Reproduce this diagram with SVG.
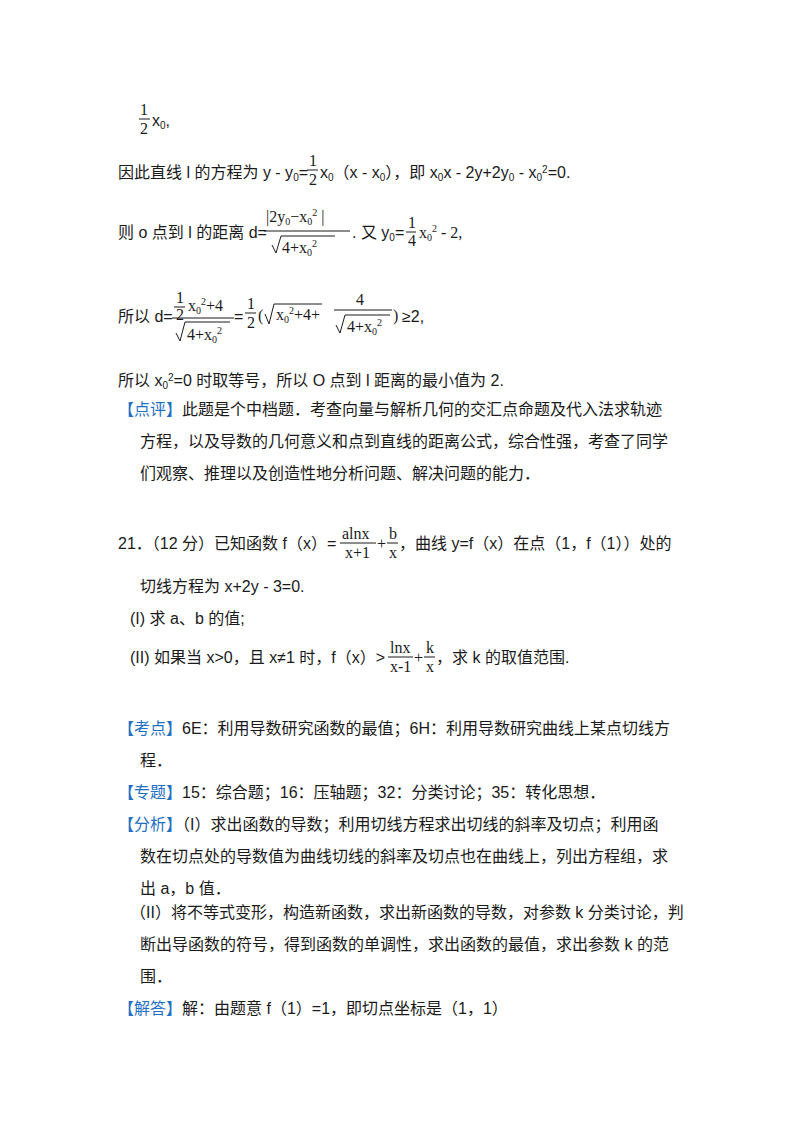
<svg xmlns="http://www.w3.org/2000/svg" width="800" height="1132" viewBox="0 0 800 1132">
<style>
text{font-family:"Liberation Sans","Noto Sans CJK SC",sans-serif;font-size:16px;fill:#1a1a1a}
.m{font-family:"Liberation Serif","Noto Sans CJK SC",serif;font-size:16px}
.s{font-size:10px}
.b{fill:#1f6fc4}
line{stroke:#1a1a1a;stroke-width:1}
path{stroke:#1a1a1a;stroke-width:1;fill:none}
</style>
<rect width="800" height="1132" fill="#fff"/>
<g id="l1">
<text x="140" y="115" class="m">1</text><line x1="139" y1="119" x2="150" y2="119"/><text x="140" y="134" class="m">2</text>
<text x="152" y="126">x<tspan class="s" dy="3">0</tspan><tspan dy="-3">,</tspan></text>
</g>
<g id="l2">
<text x="118" y="178">因此直线 l 的方程为 y - y<tspan class="s" dy="3">0</tspan><tspan dy="-3">=</tspan></text>
<text x="309" y="166" class="m">1</text><line x1="307" y1="170" x2="318" y2="170"/><text x="309" y="185" class="m">2</text>
<text x="320" y="178">x<tspan class="s" dy="3">0</tspan><tspan dy="-3">（x - x</tspan><tspan class="s" dy="3">0</tspan><tspan dy="-3">），即 x</tspan><tspan class="s" dy="3">0</tspan><tspan dy="-3">x - 2y+2y</tspan><tspan class="s" dy="3">0</tspan><tspan dy="-3"> - x</tspan><tspan class="s" dy="3">0</tspan><tspan class="s" dy="-8">2</tspan><tspan dy="5">=0.</tspan></text>
</g>
<g id="l3">
<text x="118" y="238">则 o 点到 l 的距离 d=</text>
<text x="266" y="222" class="m">|2y<tspan class="s" dy="3">0</tspan><tspan dy="-3">−x</tspan><tspan class="s" dy="3">0</tspan><tspan class="s" dy="-9">2</tspan><tspan dy="6"> |</tspan></text>
<line x1="264" y1="231" x2="350" y2="231"/>
<path d="M272,245 L276,253 L281,236 L335,236"/>
<text x="282" y="253" class="m">4+x<tspan class="s" dy="3">0</tspan><tspan class="s" dy="-9">2</tspan></text>
<text x="352" y="238">. 又 y<tspan class="s" dy="3">0</tspan><tspan dy="-3">=</tspan></text>
<text x="408" y="228" class="m">1</text><line x1="406" y1="232" x2="416" y2="232"/><text x="408" y="246" class="m">4</text>
<text x="419" y="238" class="m">x<tspan class="s" dy="3">0</tspan><tspan class="s" dy="-9">2</tspan><tspan dy="6"> - 2,</tspan></text>
</g>
<g id="l4">
<text x="118" y="322">所以 d=</text>
<text x="176" y="303" class="m">1</text><line x1="174" y1="307" x2="185" y2="307"/><text x="176" y="320" class="m">2</text>
<text x="188" y="311" class="m">x<tspan class="s" dy="3">0</tspan><tspan class="s" dy="-9">2</tspan><tspan dy="6">+4</tspan></text>
<line x1="172" y1="318" x2="234" y2="318"/>
<path d="M176,333 L180,341 L185,322 L230,322"/>
<text x="187" y="340" class="m">4+x<tspan class="s" dy="3">0</tspan><tspan class="s" dy="-9">2</tspan></text>
<text x="234" y="322">=</text>
<text x="247" y="309" class="m">1</text><line x1="245" y1="313" x2="256" y2="313"/><text x="247" y="328" class="m">2</text>
<text x="258" y="321" class="m">(</text>
<path d="M265,314 L269,324 L274,304 L322,304"/>
<text x="276" y="320" class="m">x<tspan class="s" dy="3">0</tspan><tspan class="s" dy="-9">2</tspan><tspan dy="6">+4+</tspan></text>
<text x="356" y="305" class="m">4</text>
<line x1="334" y1="310" x2="392" y2="310"/>
<path d="M336,325 L340,333 L345,315 L390,315"/>
<text x="347" y="332" class="m">4+x<tspan class="s" dy="3">0</tspan><tspan class="s" dy="-9">2</tspan></text>
<text x="393" y="321" class="m">)</text>
<text x="402" y="322">≥2,</text>
</g>
<g id="l5">
<text x="118" y="386">所以 x<tspan class="s" dy="3">0</tspan><tspan class="s" dy="-8">2</tspan><tspan dy="5">=0 时取等号，所以 O 点到 l 距离的最小值为 2.</tspan></text>
</g>
<g id="dianping">
<text x="118" y="415"><tspan class="b">【点评】</tspan>此题是个中档题．考查向量与解析几何的交汇点命题及代入法求轨迹</text>
<text x="140" y="447">方程，以及导数的几何意义和点到直线的距离公式，综合性强，考查了同学</text>
<text x="140" y="479">们观察、推理以及创造性地分析问题、解决问题的能力．</text>
</g>
<g id="q21">
<text x="118" y="549">21．（12 分）已知函数 f（x）=</text>
<text x="342" y="539" class="m">alnx</text><line x1="340" y1="543" x2="376" y2="543"/><text x="345" y="558" class="m">x+1</text>
<text x="377" y="549" class="m">+</text>
<text x="389" y="539" class="m">b</text><line x1="387" y1="543" x2="398" y2="543"/><text x="389" y="558" class="m">x</text>
<text x="399" y="549">，曲线 y=f（x）在点（1，f（1））处的</text>
<text x="140" y="592">切线方程为 x+2y - 3=0.</text>
<text x="130" y="624">(I) 求 a、b 的值;</text>
<text x="130" y="663">(II) 如果当 x&gt;0，且 x≠1 时，f（x）&gt;</text>
<text x="390" y="653" class="m">lnx</text><line x1="388" y1="657" x2="413" y2="657"/><text x="390" y="672" class="m">x-1</text>
<text x="414" y="663" class="m">+</text>
<text x="426" y="653" class="m">k</text><line x1="424" y1="657" x2="435" y2="657"/><text x="426" y="672" class="m">x</text>
<text x="436" y="663">，求 k 的取值范围.</text>
</g>
<g id="analysis">
<text x="118" y="734"><tspan class="b">【考点】</tspan>6E：利用导数研究函数的最值；6H：利用导数研究曲线上某点切线方</text>
<text x="140" y="766">程．</text>
<text x="118" y="798"><tspan class="b">【专题】</tspan>15：综合题；16：压轴题；32：分类讨论；35：转化思想．</text>
<text x="118" y="830"><tspan class="b">【分析】</tspan>（I）求出函数的导数；利用切线方程求出切线的斜率及切点；利用函</text>
<text x="140" y="862">数在切点处的导数值为曲线切线的斜率及切点也在曲线上，列出方程组，求</text>
<text x="140" y="894">出 a，b 值．</text>
<text x="130" y="918">（II）将不等式变形，构造新函数，求出新函数的导数，对参数 k 分类讨论，判</text>
<text x="140" y="950">断出导函数的符号，得到函数的单调性，求出函数的最值，求出参数 k 的范</text>
<text x="140" y="982">围．</text>
<text x="118" y="1014"><tspan class="b">【解答】</tspan>解：由题意 f（1）=1，即切点坐标是（1，1）</text>
</g>
</svg>
